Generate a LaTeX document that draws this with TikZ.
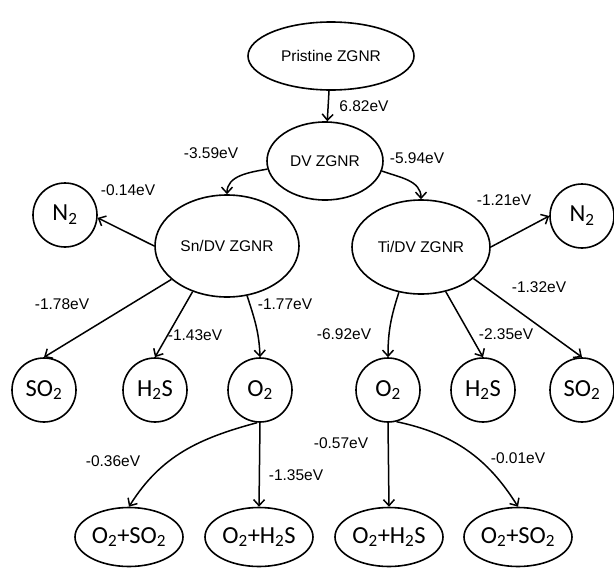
\documentclass[tikz,border=0pt]{standalone}
\usepackage{fontspec}
\setmainfont{Liberation Sans}
\newfontfamily\molfont{Carlito}
\usetikzlibrary{shapes.geometric,arrows.meta}
\tikzset{
  base/.style={draw=black, line width=1.6pt, inner sep=0pt},
  ell/.style={base, ellipse, font=\fontsize{15.5}{18}\selectfont},
  molc/.style={base, circle, minimum size=64pt, font=\molfont\fontsize{24.5}{27}\selectfont},
  mole/.style={base, ellipse, minimum width=108pt, minimum height=59pt, font=\molfont\fontsize{24.5}{27}\selectfont},
  lab/.style={inner sep=0pt, font=\fontsize{15.5}{18}\selectfont},
  arr/.style={line width=1.5pt, -{Straight Barb[length=6pt,width=11pt]}},
}
\begin{document}
\begin{tikzpicture}[x=1pt,y=1pt]
\useasboundingbox (0,0) rectangle (614,-568);
% main nodes
\node[ell, minimum width=166pt, minimum height=68pt] (pristine) at (331,-56) {Pristine ZGNR};
\node[ell, minimum width=116pt, minimum height=78pt] (dv) at (325,-161) {DV ZGNR};
\node[ell, minimum width=144pt, minimum height=102pt] (sn) at (227,-246) {Sn/DV ZGNR};
\node[ell, minimum width=138pt, minimum height=94pt] (ti) at (421,-247) {Ti/DV ZGNR};
% molecules
\node[molc] (n2L) at (65,-215) {N\textsubscript{2}};
\node[molc] (n2R) at (582,-216) {N\textsubscript{2}};
\node[molc] (so2L) at (44,-390) {SO\textsubscript{2}};
\node[molc] (h2sL) at (155,-390) {H\textsubscript{2}S};
\node[molc] (o2L) at (260,-390) {O\textsubscript{2}};
\node[molc] (o2R) at (388,-390) {O\textsubscript{2}};
\node[molc] (h2sR) at (483,-390) {H\textsubscript{2}S};
\node[molc] (so2R) at (582,-390) {SO\textsubscript{2}};
\node[mole] (o2so2L) at (129,-537) {O\textsubscript{2}+SO\textsubscript{2}};
\node[mole] (o2h2sL) at (259,-537) {O\textsubscript{2}+H\textsubscript{2}S};
\node[mole] (o2h2sR) at (389,-537) {O\textsubscript{2}+H\textsubscript{2}S};
\node[mole] (o2so2R) at (518,-537) {O\textsubscript{2}+SO\textsubscript{2}};
% connectors
\draw[arr] (pristine) -- (dv);
\draw[arr] (dv.188) to[out=190,in=90] (sn.north);
\draw[arr] (dv.-10) to[out=-20,in=90] (ti.north);
\draw[arr] (sn.west) -- (n2L.-5);
\draw[arr] (sn.211) -- (so2L.north);
\draw[arr] (sn.233) -- (h2sL.north);
\draw[arr] (sn.292) to[out=-72,in=92] (o2L.north);
\draw[arr] (ti.east) -- (n2R.west);
\draw[arr] (ti.244) to[out=-108,in=90] (o2R.north);
\draw[arr] (ti.299) -- (h2sR.north);
\draw[arr] (ti.329) -- (so2R.north);
\draw[arr] (o2L.265) to[out=195,in=58] (o2so2L.north);
\draw[arr] (o2L.south) -- (o2h2sL.north);
\draw[arr] (o2R.south) -- (o2h2sR.north);
\draw[arr] (o2R.285) to[out=-12,in=122] (o2so2R.north);
% labels
\node[lab] (l1) at (364,-106) {6.82eV};
\node[lab] (l2) at (211,-153) {-3.59eV};
\node[lab] (l3) at (417,-158) {-5.94eV};
\node[lab] (l4) at (128,-190) {-0.14eV};
\node[lab] (l5) at (62,-304) {-1.78eV};
\node[lab] (l6) at (195,-335) {-1.43eV};
\node[lab] (l7) at (285,-304) {-1.77eV};
\node[lab] (l8) at (504,-200) {-1.21eV};
\node[lab] (l9) at (539,-287) {-1.32eV};
\node[lab] (l10) at (344,-334) {-6.92eV};
\node[lab] (l11) at (506,-334) {-2.35eV};
\node[lab] (l12) at (113,-461) {-0.36eV};
\node[lab] (l13) at (296,-475) {-1.35eV};
\node[lab] (l14) at (341,-443) {-0.57eV};
\node[lab] (l15) at (518,-458) {-0.01eV};
\end{tikzpicture}
\end{document}
